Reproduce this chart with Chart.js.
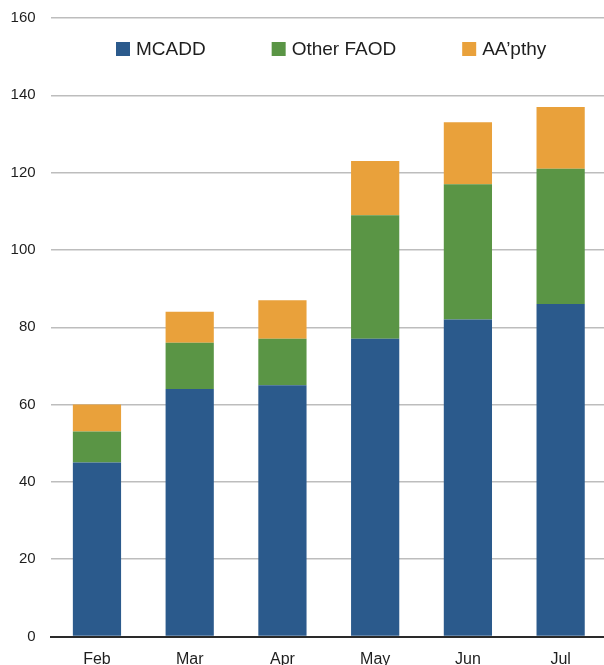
<!DOCTYPE html>
<html>
<head>
<meta charset="utf-8">
<script src="https://cdn.jsdelivr.net/npm/chart.js@4/dist/chart.umd.min.js"></script>
<style>
  html, body { margin: 0; padding: 0; background: #fff; overflow: hidden; width: 604px; height: 665px; }
  #wrap { width: 608px; height: 680px; }
</style>
</head>
<body>
<div id="wrap"><canvas id="c" width="608" height="680"></canvas></div>
<script>
const categories = ['Feb', 'Mar', 'Apr', 'May', 'Jun', 'Jul'];
const mcadd = [45, 64, 65, 77, 82, 86];
const otherFaod = [8, 12, 12, 32, 35, 35];
const aapthy = [7, 8, 10, 14, 16, 16];
const seriesNames = ['MCADD', 'Other FAOD', 'AA\u2019pthy'];
const seriesColors = ['#2b5a8c', '#5a9545', '#e9a13b'];

const FONT = '"Liberation Sans", Arial, Helvetica, sans-serif';

const legendPlugin = {
  id: 'customLegend',
  afterDraw(chart) {
    const ctx = chart.ctx;
    ctx.save();
    ctx.font = '19px ' + FONT;
    ctx.textBaseline = 'middle';
    ctx.textAlign = 'left';
    let x = 116;
    const yMid = 49;
    const box = 14;
    chart.data.datasets.forEach((ds) => {
      ctx.fillStyle = ds.backgroundColor;
      ctx.fillRect(x, yMid - box / 2, box, box);
      ctx.fillStyle = '#1e1e1e';
      ctx.fillText(ds.label, x + box + 6, yMid + 1);
      x += box + 6 + ctx.measureText(ds.label).width + 66;
    });
    ctx.restore();
  }
};

new Chart(document.getElementById('c'), {
  type: 'bar',
  data: {
    labels: categories,
    datasets: [
      { label: seriesNames[0], data: mcadd, backgroundColor: seriesColors[0] },
      { label: seriesNames[1], data: otherFaod, backgroundColor: seriesColors[1] },
      { label: seriesNames[2], data: aapthy, backgroundColor: seriesColors[2] }
    ]
  },
  options: {
    responsive: false,
    animation: false,
    layout: { padding: { left: 11, right: 1, top: 18, bottom: 13.5 } },
    datasets: { bar: { barPercentage: 0.52, categoryPercentage: 1.0, borderWidth: 0 } },
    plugins: {
      legend: { display: false },
      tooltip: { enabled: false }
    },
    scales: {
      x: {
        stacked: true,
        afterFit(scale) { scale.height = 30; scale.paddingLeft = 0; scale.paddingRight = 0; },
        grid: { display: false, drawTicks: false },
        border: { display: true, color: '#2a2a2a', width: 2 },
        ticks: { font: { size: 16, family: FONT }, color: '#1e1e1e', padding: 13 }
      },
      y: {
        stacked: true,
        min: 0,
        max: 160,
        afterFit(scale) { scale.width = 39.6; scale.paddingTop = 0; scale.paddingBottom = 0; },
        grid: { color: '#bdbdbd', lineWidth: 1.5, drawTicks: false },
        border: { display: false },
        ticks: { stepSize: 20, font: { size: 15, family: FONT }, color: '#1e1e1e', padding: 15 }
      }
    }
  },
  plugins: [legendPlugin]
});
</script>
</body>
</html>
